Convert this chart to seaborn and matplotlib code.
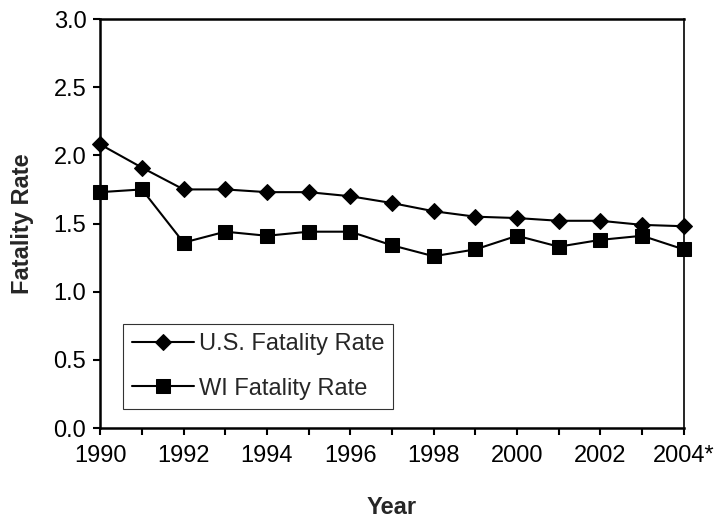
import matplotlib
matplotlib.use("Agg")
import matplotlib.pyplot as plt
import seaborn as sns
import pandas as pd

# Data
years = list(range(1990, 2005))
us_rate = [2.08, 1.91, 1.75, 1.75, 1.73, 1.73, 1.70, 1.65, 1.59, 1.55, 1.54, 1.52, 1.52, 1.49, 1.48]
wi_rate = [1.73, 1.75, 1.36, 1.44, 1.41, 1.44, 1.44, 1.34, 1.26, 1.31, 1.41, 1.33, 1.38, 1.41, 1.31]
tick_labels = ["1990", "", "1992", "", "1994", "", "1996", "", "1998", "", "2000", "", "2002", "", "2004*"]

df = pd.DataFrame({"year": years, "us": us_rate, "wi": wi_rate})

# Set styles
sns.set_style("ticks")
plt.rcParams['font.family'] = ['Liberation Sans', 'DejaVu Sans']
fs = 17

fig = plt.figure(figsize=(7.16, 5.21), dpi=100)
ax = fig.add_axes([0.140, 0.1785, 0.815, 0.785])

sns.lineplot(data=df, x="year", y="us", ax=ax, color="black", linewidth=1.5,
             marker="D", markersize=8, markeredgecolor="black", label="U.S. Fatality Rate",
             clip_on=False)
sns.lineplot(data=df, x="year", y="wi", ax=ax, color="black", linewidth=1.5,
             marker="s", markersize=10.5, markeredgecolor="black", label="WI Fatality Rate",
             clip_on=False)

# axes formatting
ax.set_xlim(1990, 2004)
ax.set_ylim(0, 3.0)
ax.set_xticks(years)
ax.set_xticklabels(tick_labels, fontsize=fs)
ax.set_yticks([0, 0.5, 1.0, 1.5, 2.0, 2.5, 3.0])
ax.set_yticklabels(["0.0", "0.5", "1.0", "1.5", "2.0", "2.5", "3.0"], fontsize=fs)
ax.tick_params(axis="x", direction="out", length=5, width=1.5, pad=7, colors="black")
ax.tick_params(axis="y", direction="out", length=5, width=1.5, pad=5, colors="black")

for side in ["left", "bottom", "top"]:
    ax.spines[side].set_linewidth(1.8)
    ax.spines[side].set_color("black")
ax.spines["right"].set_linewidth(1.2)
ax.spines["right"].set_color("black")

ax.set_xlabel("Year", fontsize=fs, fontweight="bold", labelpad=21)
ax.set_ylabel("Fatality Rate", fontsize=fs, fontweight="bold", labelpad=14)

leg = ax.legend(loc="lower left", bbox_to_anchor=(0.039, 0.046), borderaxespad=0,
                fontsize=fs, frameon=True, fancybox=False, edgecolor="black",
                handlelength=2.6, handletextpad=0.2, labelspacing=0.95, borderpad=0.4)
leg.get_frame().set_linewidth(0.8)

plt.savefig("out.png", dpi=100)
